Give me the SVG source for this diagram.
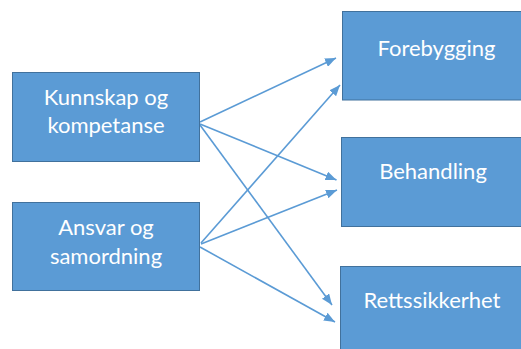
<svg xmlns="http://www.w3.org/2000/svg" width="521" height="349" viewBox="0 0 521 349">
  <style>
    .box { fill: #5B9BD5; stroke: #41719C; stroke-width: 1; }
    .lbl { fill: #FFFFFF; font-family: Lato, "Open Sans", "Liberation Sans", sans-serif; font-size: 22px; text-anchor: middle; }
    .link { stroke: #5B9BD5; stroke-width: 1.6; fill: none; marker-end: url(#head); }
  </style>
  <defs>
    <marker id="head" markerUnits="userSpaceOnUse" markerWidth="11" markerHeight="9" refX="11" refY="4.5" orient="auto">
      <path d="M0,0 L11,4.5 L0,9 Z" fill="#5B9BD5"/>
    </marker>
  </defs>
  <rect width="521" height="349" fill="#FFFFFF"/>

  <g id="connectors">
    <line class="link" x1="200" y1="122" x2="336" y2="58"/>
    <line class="link" x1="200" y1="124" x2="336.5" y2="180"/>
    <line class="link" x1="200" y1="125" x2="332" y2="305"/>
    <line class="link" x1="201" y1="243" x2="340" y2="85"/>
    <line class="link" x1="201" y1="244" x2="337" y2="190"/>
    <line class="link" x1="200" y1="247" x2="335" y2="322"/>
  </g>

  <g id="kunnskap">
    <rect class="box" x="12.5" y="72.5" width="187" height="89"/>
    <text class="lbl" x="106" y="104.5">Kunnskap og</text>
    <text class="lbl" x="106" y="133">kompetanse</text>
  </g>

  <g id="ansvar">
    <rect class="box" x="12.5" y="202.5" width="187" height="88"/>
    <text class="lbl" x="106" y="235">Ansvar og</text>
    <text class="lbl" x="106" y="264">samordning</text>
  </g>

  <g id="forebygging">
    <rect class="box" x="342.5" y="11.5" width="190" height="88.5"/>
    <text class="lbl" x="436.5" y="56">Forebygging</text>
  </g>

  <g id="behandling">
    <rect class="box" x="341.5" y="137.5" width="190" height="89"/>
    <text class="lbl" x="433" y="178.5">Behandling</text>
  </g>

  <g id="rettssikkerhet">
    <rect class="box" x="340.5" y="266.5" width="190" height="90"/>
    <text class="lbl" x="432" y="307.5">Rettssikkerhet</text>
  </g>
</svg>
